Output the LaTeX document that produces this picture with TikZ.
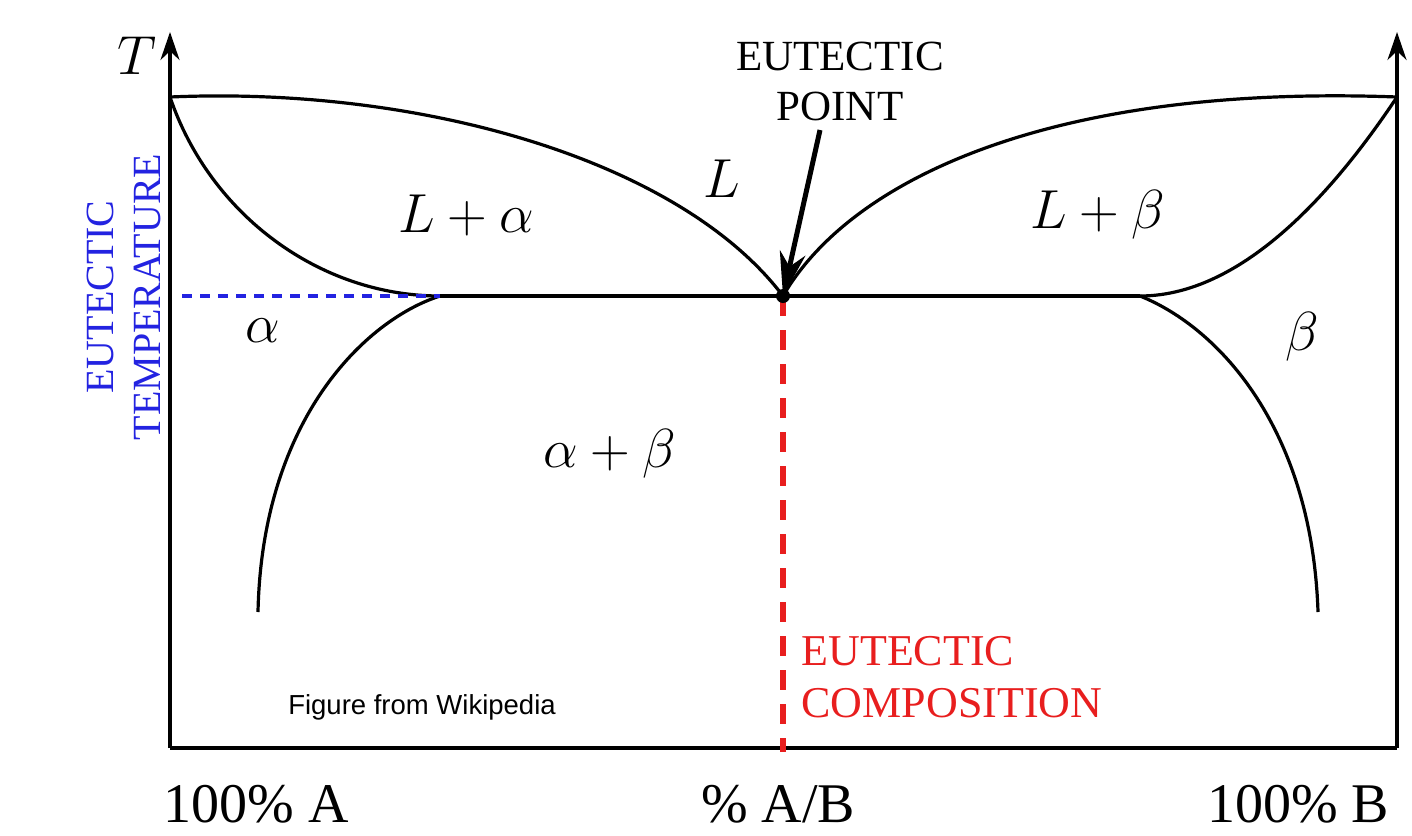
\RequirePackage{fix-cm}
\documentclass[tikz,border=0pt]{standalone}
\usepackage{fontspec}
\setmainfont{Liberation Serif}
\newfontfamily\wikifont{Liberation Sans}
\usetikzlibrary{arrows.meta,positioning}
\definecolor{ink}{RGB}{0,0,0}
\definecolor{eublue}{RGB}{35,35,225}
\definecolor{eured}{RGB}{232,30,30}

\begin{document}
\begin{tikzpicture}[x=1pt,y=-1pt,
    phase/.style={anchor=base,font=\fontsize{55}{60}\selectfont},
    caps/.style={align=center,font=\fontsize{43}{50}\selectfont},
    curve/.style={line width=3.2pt,ink},
    axis/.style={line width=3.4pt,ink,-{Stealth[length=28pt,width=19pt,inset=9pt]}}]
  \useasboundingbox (0,0) rectangle (1412,835);
  % frame of the diagram
  \coordinate (O) at (170,748);
  \coordinate (Bo) at (1397,748);
  \coordinate (Ttop) at (170,32);
  \coordinate (Btop) at (1397,32);
  \coordinate (A) at (170,97);
  \coordinate (B) at (1397,97);
  \coordinate (E) at (783,296);
  \coordinate (SA) at (440,296);
  \coordinate (SB) at (1140,296);
  \coordinate (VA) at (258,612);
  \coordinate (VB) at (1318,612);
  \coordinate (Tl) at (182,296);
  \coordinate (Ebot) at (783,752);
  \draw[axis] (O) -- (Ttop);
  \draw[axis] (Bo) -- (Btop);
  \draw[line width=3.4pt,ink] (O) -- (Bo);
  % liquidus, solidus and solvus lines
  \draw[curve] (A) .. controls (420,86) and (680,160) .. (E);
  \draw[curve] (E) .. controls (850,180) and (1050,84) .. (B);
  \draw[curve] (A) .. controls (210,215) and (320,296) .. (SA);
  \draw[curve] (B) .. controls (1345,175) and (1250,296) .. (SB);
  \draw[curve] (SA) -- (SB);
  \draw[curve] (SA) .. controls (365,320) and (262,420) .. (VA);
  \draw[curve] (SB) .. controls (1220,328) and (1312,430) .. (VB);
  % eutectic marks
  \draw[eublue,line width=3.4pt,dash pattern=on 10pt off 8pt] (Tl) -- (SA);
  \draw[eured,line width=5.5pt,dash pattern=on 20pt off 14pt] (E) -- (Ebot);
  \fill[ink] (E) circle (7pt);
  % labels
  \node[phase] (T) at (137,74) {$T$};
  \node[phase] (la) at (466,232) {$L+\alpha$};
  \node[phase] (l) at (722,197) {$L$};
  \node[phase] (lb) at (1098,228) {$L+\beta$};
  \node[phase] (a) at (263,342) {$\alpha$};
  \node[phase] (b) at (1302,350) {$\beta$};
  \node[phase] (ab) at (610,467) {$\alpha+\beta$};
  \node[caps] (ep) at (840,81) {EUTECTIC\\POINT};
  \coordinate (eptail) at (820,130);
  \draw[line width=5pt,ink,-{Stealth[length=44pt,width=26pt,inset=14pt]}] (eptail) -- (E);
  \node[caps,rotate=90,text=eublue,font=\fontsize{40}{47}\selectfont] (et) at (124,297) {EUTECTIC\\TEMPERATURE};
  \node[caps,align=left,anchor=west,text=eured,font=\fontsize{44}{52}\selectfont] (ec) at (798,677) {EUTECTIC\\COMPOSITION};
  \node[anchor=base,font=\wikifont\fontsize{27.5}{30}\selectfont] (wiki) at (422,714) {Figure from Wikipedia};
  \node[anchor=base,font=\fontsize{56}{60}\selectfont] (pa) at (256,822) {100\% A};
  \node[anchor=base,font=\fontsize{56}{60}\selectfont] (pab) at (778,822) {\% A/B};
  \node[anchor=base,font=\fontsize{56}{60}\selectfont] (pb) at (1298,822) {100\% B};
\end{tikzpicture}
\end{document}
